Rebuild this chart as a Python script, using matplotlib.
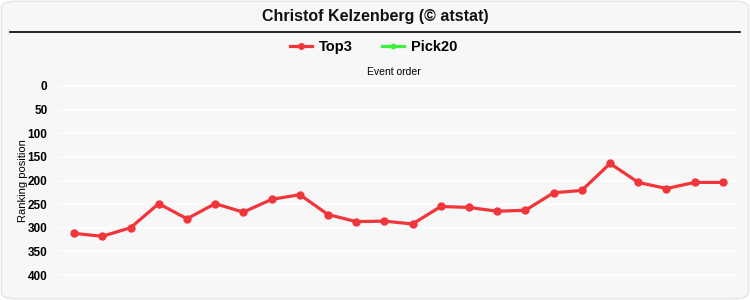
import matplotlib
matplotlib.use('Agg')
import matplotlib.pyplot as plt
from matplotlib.patches import FancyBboxPatch
from matplotlib.lines import Line2D

plt.rcParams['font.family'] = ['Liberation Sans', 'DejaVu Sans']

events = list(range(1, 25))
top3 = [312, 318, 300, 249, 281, 249, 267, 240, 230, 272, 287, 286,
        292, 255, 257, 265, 263, 226, 221, 164, 204, 217, 204, 204]
yticks = [0, 50, 100, 150, 200, 250, 300, 350, 400]

bg = '#f7f7f7'
red = '#f0353b'
green = '#3cf03c'

fig = plt.figure(figsize=(7.5, 3.0), dpi=100)
fig.patch.set_facecolor('white')
fig.patches.append(FancyBboxPatch((0.002, 0.004), 0.996, 0.992,
                                  boxstyle='round,pad=0,rounding_size=0.02',
                                  transform=fig.transFigure, facecolor=bg,
                                  edgecolor='#e4e4e4', linewidth=1, zorder=-10))

# title with rule underneath
fig.text(0.5, 1 - 16 / 300, 'Christof Kelzenberg (© atstat)', ha='center', va='center',
         fontsize=11.5, fontweight='bold', color='#111111')
fig.add_artist(Line2D([10 / 750, 740 / 750], [1 - 32 / 300, 1 - 32 / 300],
                      color='black', linewidth=1.2, transform=fig.transFigure))

ax = fig.add_axes([60 / 750, 1 - 275 / 300, 677 / 750, 189 / 300])
ax.set_facecolor(bg)
x = list(range(len(events)))
ax.plot(x, top3, color=red, linewidth=2.3, marker='o', markersize=5, label='Top3')
ax.plot([], [], color=green, linewidth=2.3, marker='o', markersize=4, label='Pick20')

ax.set_xlim(-0.5, len(events) - 0.5)
ax.set_ylim(400, 0)
ax.set_yticks(yticks)
ax.set_yticklabels([str(v) for v in yticks], fontsize=8.5, fontweight='bold')
ax.set_xticks([])
ax.grid(axis='y', color='white', linewidth=1.2)
ax.set_axisbelow(True)
for s in ax.spines.values():
    s.set_visible(False)
ax.tick_params(axis='y', length=0, pad=9)
ax.set_ylabel('Ranking position', fontsize=8, labelpad=0)
for gl in ax.get_ygridlines():
    gl.set_clip_on(False)

fig.text(394 / 750, 1 - 72 / 300, 'Event order', ha='center', va='center', fontsize=7.5)

fig.legend(loc='center', bbox_to_anchor=(374 / 750, 1 - 47 / 300), ncol=2, frameon=False,
           prop={'weight': 'bold', 'size': 10.5}, handlelength=1.5, columnspacing=2.0,
           handletextpad=0.5, markerscale=0.8)

fig.savefig('out.png', dpi=100, facecolor='white')
